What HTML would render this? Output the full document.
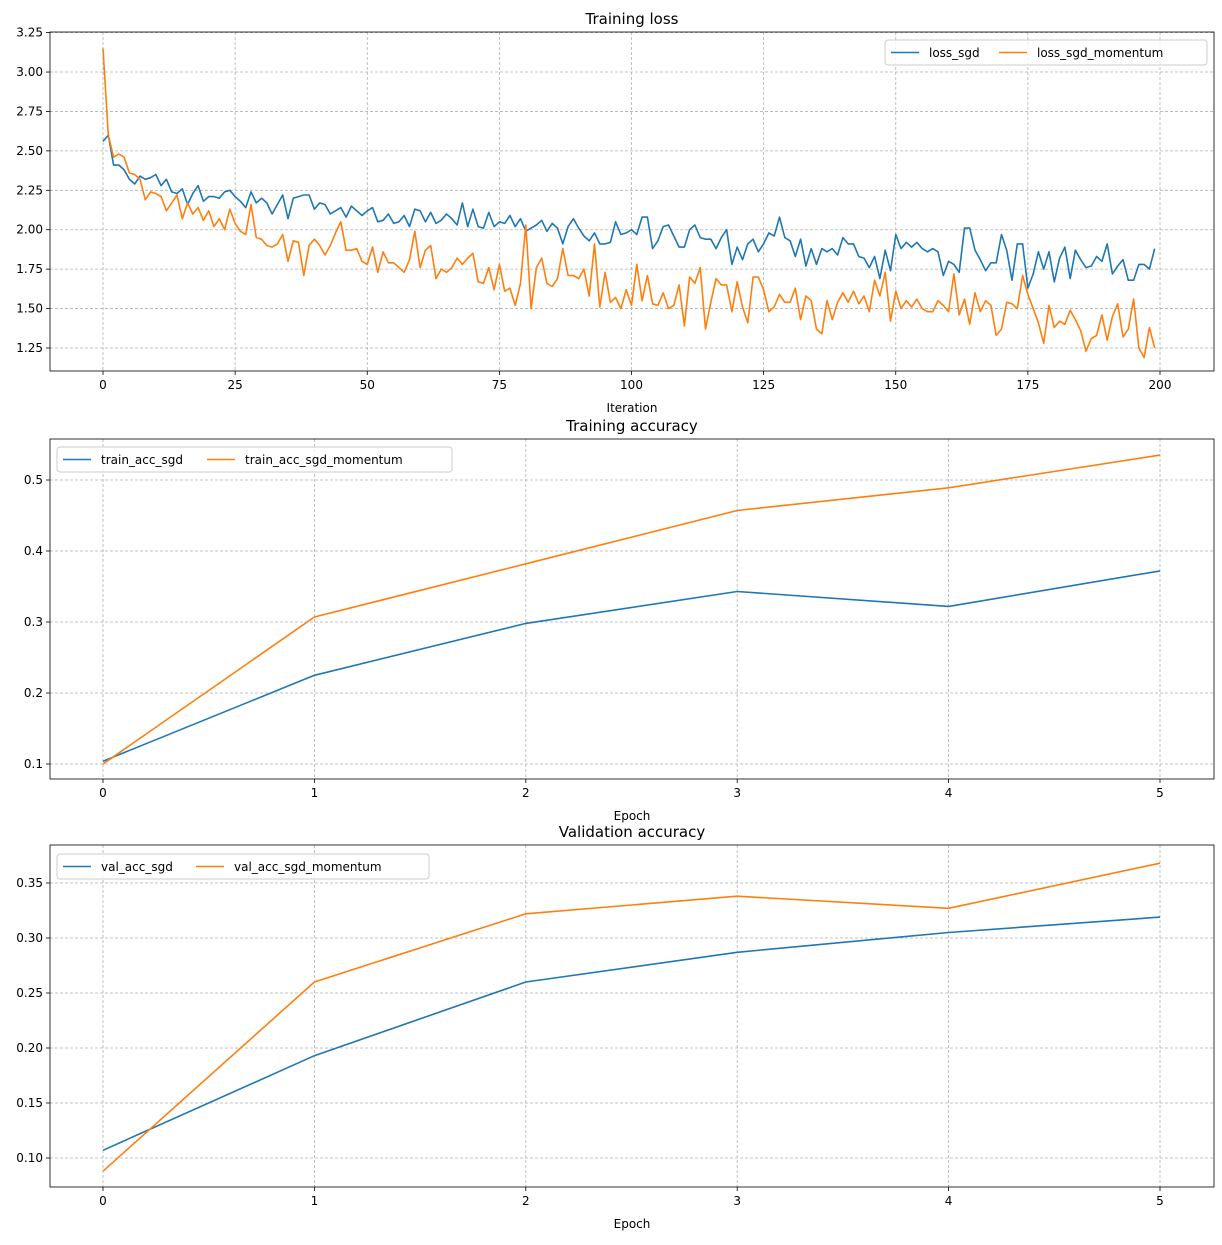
<!DOCTYPE html>
<html><head><meta charset="utf-8"><style>
html,body{margin:0;padding:0;background:#fff;}
svg text{font-family:"DejaVu Sans","Liberation Sans",sans-serif;fill:#000;}
</style></head><body>
<svg id="s" width="1222" height="1240" xmlns="http://www.w3.org/2000/svg"></svg>
<script>
const S=document.getElementById('s');let h='';
const B='#1f77b4',O='#ff7f0e';
function panel(o){
 const {top,bot,x0,xs,y0v,ys,yT,xT,yfmt,title,xlabel,series,leg}=o;
 const X=v=>x0+v*xs, Y=v=>y0v.py-(v-y0v.v)*ys;
 // grid
 for(const t of xT){h+=`<line x1="${X(t)}" x2="${X(t)}" y1="${top}" y2="${bot}" stroke="#b0b0b0" stroke-width="0.8" stroke-dasharray="3,2"/>`;}
 for(const t of yT){h+=`<line x1="50" x2="1214" y1="${Y(t)}" y2="${Y(t)}" stroke="#b0b0b0" stroke-width="0.8" stroke-dasharray="3,2"/>`;}
 h+=`<defs><clipPath id="c${top}"><rect x="50" y="${top}" width="1164" height="${bot-top}"/></clipPath></defs>`;
 for(const s of series){
  const n=s.d.length;const sc=s.span?s.span/(n-1):1;
  const p=s.d.map((v,i)=>`${X(i*sc).toFixed(1)},${Y(v).toFixed(1)}`).join(' ');
  h+=`<polyline clip-path="url(#c${top})" points="${p}" fill="none" stroke="${s.c}" stroke-width="1.6" stroke-linejoin="round"/>`;
 }
 h+=`<rect x="50" y="${top}" width="1164" height="${bot-top}" fill="none" stroke="#000" stroke-width="0.8"/>`;
 for(const t of xT){h+=`<line x1="${X(t)}" x2="${X(t)}" y1="${bot}" y2="${bot+4}" stroke="#000" stroke-width="0.8"/><text x="${X(t)}" y="${bot+18}" font-size="12" text-anchor="middle">${t}</text>`;}
 for(const t of yT){h+=`<line x1="46" x2="50" y1="${Y(t)}" y2="${Y(t)}" stroke="#000" stroke-width="0.8"/><text x="43" y="${Y(t)+4}" font-size="12" text-anchor="end">${yfmt(t)}</text>`;}
 h+=`<text x="632" y="${top-8}" font-size="15" text-anchor="middle">${title}</text>`;
 h+=`<text x="632" y="${bot+41}" font-size="12" text-anchor="middle">${xlabel}</text>`;
 const L=leg;
 h+=`<rect x="${L.x}" y="${L.y}" width="${L.w}" height="25" rx="3" fill="#fff" fill-opacity="0.8" stroke="#ccc"/>`;
 h+=`<line x1="${L.x+6}" x2="${L.x+34}" y1="${L.y+12.5}" y2="${L.y+12.5}" stroke="${B}" stroke-width="1.6"/><text x="${L.x+44}" y="${L.y+17}" font-size="12">${L.a}</text>`;
 h+=`<line x1="${L.x+L.o}" x2="${L.x+L.o+28}" y1="${L.y+12.5}" y2="${L.y+12.5}" stroke="${O}" stroke-width="1.6"/><text x="${L.x+L.o+38}" y="${L.y+17}" font-size="12">${L.b}</text>`;
}
const sgd=[2.56,2.60,2.41,2.41,2.38,2.32,2.29,2.34,2.32,2.33,2.35,2.28,2.32,2.24,2.23,2.26,2.16,2.23,2.28,2.18,2.21,2.21,2.20,2.24,2.25,2.21,2.18,2.14,2.24,2.17,2.20,2.17,2.10,2.16,2.22,2.07,2.20,2.21,2.22,2.22,2.13,2.17,2.16,2.10,2.12,2.14,2.08,2.15,2.12,2.09,2.12,2.14,2.05,2.06,2.10,2.04,2.05,2.09,2.02,2.13,
2.12,2.05,2.11,2.04,2.06,2.10,2.07,2.03,2.17,2.02,2.13,2.02,2.01,2.11,2.02,2.05,2.04,2.09,2.02,2.07,1.99,2.01,2.03,2.06,1.99,2.04,2.01,1.91,2.02,2.07,2.01,1.96,1.93,1.98,1.91,1.91,1.92,2.05,1.97,1.98,2.00,1.97,2.08,2.08,1.88,1.93,2.02,2.03,1.96,1.89,1.89,2.00,2.03,1.95,1.94,1.94,1.88,1.95,2.00,1.78,1.89,1.81,1.91,1.94,1.86,1.91,1.98,1.96,2.08,1.95,1.93,1.83,1.94,1.77,1.88,1.78,1.88,1.86,1.88,1.84,1.95,1.91,1.91,1.83,1.82,1.76,1.83,1.69,1.87,1.74,1.97,1.88,1.92,1.89,1.92,1.88,1.86,1.88,1.86,1.71,1.80,1.78,1.73,2.01,2.01,1.87,1.81,1.74,1.79,1.79,1.97,1.87,1.68,1.91,1.91,1.63,1.72,1.86,1.75,1.86,1.67,1.82,1.89,1.69,1.87,1.81,1.76,1.77,1.83,1.80,1.91,1.72,1.77,1.81,1.68,1.68,1.78,1.78,1.75,1.88];
const mom=[3.15,2.60,2.46,2.48,2.46,2.36,2.35,2.32,2.19,2.24,2.23,2.21,2.12,2.17,2.22,2.07,2.17,2.10,2.14,2.06,2.12,2.02,2.07,2.00,2.13,2.04,1.99,1.97,2.16,1.95,1.94,1.90,1.89,1.91,1.97,1.80,1.93,1.92,1.71,1.90,1.94,1.90,1.84,1.90,1.98,2.05,1.87,1.87,1.88,1.80,1.78,1.89,1.73,1.86,1.79,1.79,1.76,1.73,1.81,1.99,1.76,1.87,1.90,1.69,1.75,1.73,1.76,1.82,1.78,1.82,1.85,1.67,1.66,1.76,1.62,1.78,1.61,1.63,1.52,1.66,2.03,1.50,1.76,1.82,1.66,1.64,1.69,1.88,1.71,1.71,1.69,1.75,1.58,1.91,1.51,1.73,1.54,1.57,1.50,1.62,1.52,1.78,1.55,1.71,1.53,1.52,1.60,1.50,1.52,1.65,1.39,1.70,1.66,1.76,1.37,1.54,1.69,1.65,1.65,1.48,1.67,1.51,1.41,1.70,1.70,1.62,1.48,1.51,1.59,1.54,1.54,1.63,1.43,1.58,1.55,1.37,1.34,1.55,1.43,1.54,1.60,1.54,1.61,1.53,1.58,1.48,1.68,1.58,1.73,1.42,1.61,1.50,1.55,1.51,1.56,1.50,1.48,1.48,1.55,1.52,1.48,1.72,1.46,1.56,1.40,1.60,1.48,1.55,1.52,1.33,1.37,1.54,1.53,1.50,1.71,1.59,1.50,1.41,1.28,1.52,1.38,1.42,1.40,1.49,1.43,1.36,1.23,1.31,1.33,1.46,1.30,1.45,1.53,1.32,1.37,1.56,1.25,1.19,1.38,1.25];
panel({top:32,bot:371,x0:103,xs:5.285,y0v:{v:1.25,py:348},ys:157.7,yT:[1.25,1.5,1.75,2,2.25,2.5,2.75,3,3.25],xT:[0,25,50,75,100,125,150,175,200],yfmt:t=>t.toFixed(2),title:'Training loss',xlabel:'Iteration',
 series:[{d:sgd,c:B,span:199},{d:mom,c:O,span:199}],leg:{x:885,y:40,w:322,a:'loss_sgd',b:'loss_sgd_momentum',o:114}});
panel({top:439,bot:779,x0:103,xs:211.4,y0v:{v:0.1,py:764},ys:710,yT:[0.1,0.2,0.3,0.4,0.5],xT:[0,1,2,3,4,5],yfmt:t=>t.toFixed(1),title:'Training accuracy',xlabel:'Epoch',
 series:[{d:[.104,.225,.298,.343,.322,.372],c:B},{d:[.100,.307,.382,.457,.489,.535],c:O}],leg:{x:57,y:447,w:395,a:'train_acc_sgd',b:'train_acc_sgd_momentum',o:150}});
panel({top:845,bot:1187,x0:103,xs:211.4,y0v:{v:0.1,py:1158},ys:1100,yT:[0.1,0.15,0.2,0.25,0.3,0.35],xT:[0,1,2,3,4,5],yfmt:t=>t.toFixed(2),title:'Validation accuracy',xlabel:'Epoch',
 series:[{d:[.107,.193,.260,.287,.305,.319],c:B},{d:[.088,.260,.322,.338,.327,.368],c:O}],leg:{x:57,y:854,w:372,a:'val_acc_sgd',b:'val_acc_sgd_momentum',o:139}});
S.innerHTML=h;
</script>
</body></html>
